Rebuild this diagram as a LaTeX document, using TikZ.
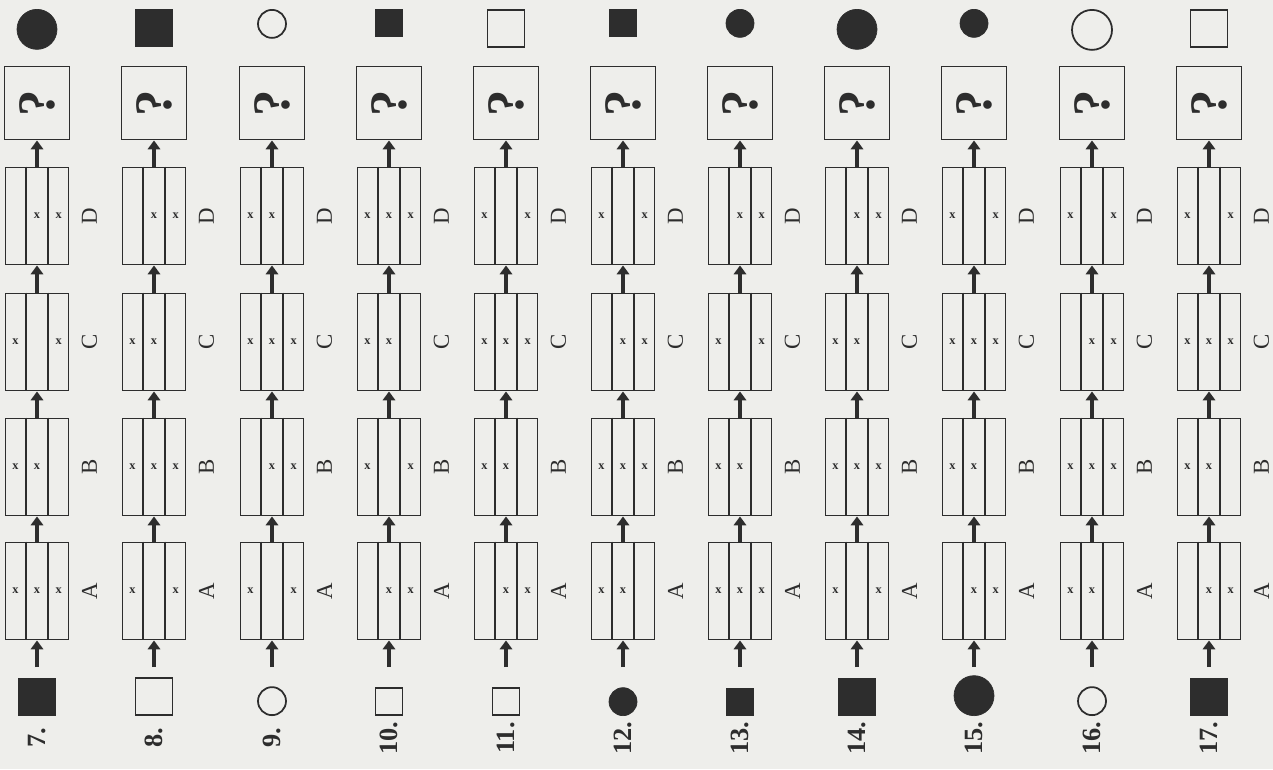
\documentclass[tikz,border=0pt]{standalone}
\usepackage{fontspec}
\setmainfont{Liberation Serif}
\usetikzlibrary{arrows.meta,positioning,calc}
\definecolor{ink}{RGB}{45,45,45}
\definecolor{paper}{RGB}{238,238,235}

\tikzset{
  stripbox/.style={draw=ink, line width=1.1pt, minimum width=1.26cm, minimum height=1.94cm, inner sep=0pt},
  qbox/.style={draw=ink, line width=1.1pt, minimum width=1.3cm, minimum height=1.46cm, inner sep=0pt,
    font=\fontsize{30}{34}\selectfont\bfseries, text=ink},
  xmark/.style={font=\fontsize{7}{8}\selectfont\bfseries, text=ink, inner sep=0pt},
  letter/.style={font=\fontsize{13}{15}\selectfont, text=ink, rotate=90},
  numlabel/.style={font=\fontsize{15}{18}\selectfont\bfseries, text=ink, rotate=90},
  flow/.style={-{Triangle[length=5pt,width=7pt]}, line width=2pt, draw=ink},
  bigsq/.style={rectangle, minimum size=0.74cm, inner sep=0pt},
  smallsq/.style={rectangle, minimum size=0.54cm, inner sep=0pt},
  bigdot/.style={circle, minimum size=0.8cm, inner sep=0pt},
  smalldot/.style={circle, minimum size=0.56cm, inner sep=0pt},
  inked/.style={fill=ink, draw=ink},
  hollow/.style={draw=ink, line width=1pt}
}

% one box of three strips: name, x, y, left, middle, right (1 = cross)
\newcommand{\stripbox}[6]{%
  \node[stripbox] (#1) at (#2,#3) {};
  \draw[ink, line width=1.1pt] ($(#1.north west)!1/3!(#1.north east)$) -- ($(#1.south west)!1/3!(#1.south east)$);
  \draw[ink, line width=1.1pt] ($(#1.north west)!2/3!(#1.north east)$) -- ($(#1.south west)!2/3!(#1.south east)$);
  \ifnum#4=1 \node[xmark] (#1l) at ($(#1.west)!1/6!(#1.east)$) {x};\fi
  \ifnum#5=1 \node[xmark] (#1m) at (#1.center) {x};\fi
  \ifnum#6=1 \node[xmark] (#1r) at ($(#1.west)!5/6!(#1.east)$) {x};\fi
}

% one task: number, x, input shape, output shape, boxes A B C D
\newcommand{\puzzlecol}[8]{%
  \node[#3, anchor=south] (in#1) at (#2,716) {};
  \coordinate (tail#1) at (#2,667);
  \stripbox{A#1}{#2}{591}#5
  \stripbox{B#1}{#2}{467}#6
  \stripbox{C#1}{#2}{342}#7
  \stripbox{D#1}{#2}{216}#8
  \node[qbox] (Q#1) at (#2,103) {\rotatebox{90}{?}};
  \node[#4, anchor=north] (out#1) at (#2,9) {};
  \node[numlabel] (num#1) at (#2,738) {#1.};
  \foreach \s in {A,B,C,D}
    \node[letter] (lab\s#1) at ($(\s#1.east)+(20,0)$) {\s};
  % arrows upward
  \draw[flow] (tail#1) -- (A#1.south);
  \draw[flow] (A#1.north) -- (B#1.south);
  \draw[flow] (B#1.north) -- (C#1.south);
  \draw[flow] (C#1.north) -- (D#1.south);
  \draw[flow] (D#1.north) -- (Q#1.south);
}

\begin{document}
\begin{tikzpicture}[x=0.02cm, y=-0.02cm]
    \useasboundingbox (0,0) rectangle (1273,769);
    \fill[paper] (0,0) rectangle (1273,769);

    \puzzlecol{7}{37}{bigsq,inked}{bigdot,inked}{{1}{1}{1}}{{1}{1}{0}}{{1}{0}{1}}{{0}{1}{1}}
    \puzzlecol{8}{154}{bigsq,hollow}{bigsq,inked}{{1}{0}{1}}{{1}{1}{1}}{{1}{1}{0}}{{0}{1}{1}}
    \puzzlecol{9}{272}{smalldot,hollow}{smalldot,hollow}{{1}{0}{1}}{{0}{1}{1}}{{1}{1}{1}}{{1}{1}{0}}
    \puzzlecol{10}{389}{smallsq,hollow}{smallsq,inked}{{0}{1}{1}}{{1}{0}{1}}{{1}{1}{0}}{{1}{1}{1}}
    \puzzlecol{11}{506}{smallsq,hollow}{bigsq,hollow}{{0}{1}{1}}{{1}{1}{0}}{{1}{1}{1}}{{1}{0}{1}}
    \puzzlecol{12}{623}{smalldot,inked}{smallsq,inked}{{1}{1}{0}}{{1}{1}{1}}{{0}{1}{1}}{{1}{0}{1}}
    \puzzlecol{13}{740}{smallsq,inked}{smalldot,inked}{{1}{1}{1}}{{1}{1}{0}}{{1}{0}{1}}{{0}{1}{1}}
    \puzzlecol{14}{857}{bigsq,inked}{bigdot,inked}{{1}{0}{1}}{{1}{1}{1}}{{1}{1}{0}}{{0}{1}{1}}
    \puzzlecol{15}{974}{bigdot,inked}{smalldot,inked}{{0}{1}{1}}{{1}{1}{0}}{{1}{1}{1}}{{1}{0}{1}}
    \puzzlecol{16}{1092}{smalldot,hollow}{bigdot,hollow}{{1}{1}{0}}{{1}{1}{1}}{{0}{1}{1}}{{1}{0}{1}}
    \puzzlecol{17}{1209}{bigsq,inked}{bigsq,hollow}{{0}{1}{1}}{{1}{1}{0}}{{1}{1}{1}}{{1}{0}{1}}
\end{tikzpicture}
\end{document}
